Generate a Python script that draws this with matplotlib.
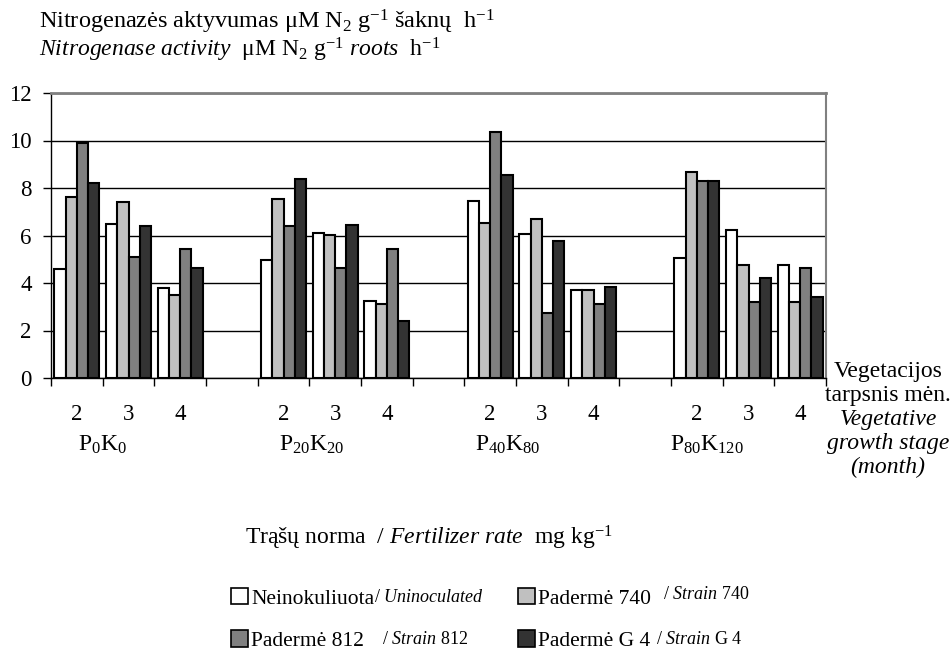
import matplotlib
matplotlib.use("Agg")
import matplotlib.pyplot as plt
from matplotlib.patches import Patch
from matplotlib.transforms import blended_transform_factory
import numpy as np

plt.rcParams["font.family"] = ["Liberation Serif", "DejaVu Serif"]
plt.rcParams["mathtext.fontset"] = "custom"
plt.rcParams["mathtext.rm"] = "Liberation Serif"
plt.rcParams["mathtext.it"] = "Liberation Serif:italic"
plt.rcParams["mathtext.bf"] = "Liberation Serif:bold"

# Fertilizer rates and growth stages (months)
fertilizer_groups = ["P$_0$K$_0$", "P$_{20}$K$_{20}$", "P$_{40}$K$_{80}$", "P$_{80}$K$_{120}$"]
months = ["2", "3", "4"]

# Nitrogenase activity, one value per fertilizer rate x month
uninoculated = [4.61, 6.49, 3.77, 4.98, 6.09, 3.26, 7.46, 6.08, 3.70, 5.06, 6.22, 4.77]
strain_740 = [7.63, 7.43, 3.50, 7.53, 6.04, 3.13, 6.54, 6.69, 3.72, 8.69, 4.77, 3.19]
strain_812 = [9.89, 5.09, 5.44, 6.38, 4.63, 5.44, 10.37, 2.75, 3.12, 8.28, 3.22, 4.63]
strain_g4 = [8.21, 6.39, 4.63, 8.39, 6.43, 2.41, 8.56, 5.77, 3.82, 8.28, 4.23, 3.43]

series_main = ["Neinokuliuota", "Padermė 740", "Padermė 812", "Padermė G 4"]
series_sub = [r"/ $\mathit{Uninoculated}$", r"/ $\mathit{Strain}$ 740",
              r"/ $\mathit{Strain}$ 812", r"/ $\mathit{Strain}$ G 4"]
colors = ["#FFFFFF", "#C0C0C0", "#808080", "#333333"]

fig = plt.figure(figsize=(9.5, 6.51), dpi=100)
W, H = 950, 651
ax = fig.add_axes([51 / W, 1 - 378 / H, (826 - 51) / W, (378 - 93) / H])

# each fertilizer group takes three month slots plus one empty slot
n_groups = len(fertilizer_groups)
slots = []
for g in range(n_groups):
    for m in range(len(months)):
        slots.append(g * (len(months) + 1) + m)
slots = np.array(slots)
n_slots = n_groups * (len(months) + 1) - 1

bar_w = 0.218
all_series = [uninoculated, strain_740, strain_812, strain_g4]
for j, (vals, col) in enumerate(zip(all_series, colors)):
    ax.bar(slots + 0.5 + (j - 1.5) * bar_w, vals, width=bar_w, color=col,
           edgecolor="black", linewidth=1.5, zorder=3)

ax.set_xlim(0, n_slots)
ax.set_ylim(0, 12)
ax.set_yticks(np.arange(0, 13, 2))
ax.tick_params(axis="y", direction="out", length=6, width=1, pad=8, labelsize=16.5)
ax.yaxis.grid(True, color="black", linewidth=1, zorder=0)
ax.set_axisbelow(True)

ax.set_xticks(np.arange(0, n_slots + 1))
ax.set_xticklabels([])
ax.tick_params(axis="x", which="major", direction="out", length=6, width=1)
ax.set_xticks(slots + 0.5, minor=True)
ax.set_xticklabels(months * n_groups, minor=True)
ax.tick_params(axis="x", which="minor", length=0, pad=19, labelsize=16.5)

for side in ["left", "bottom"]:
    ax.spines[side].set_color("black")
    ax.spines[side].set_linewidth(1)
ax.spines["top"].set_color("#808080")
ax.spines["top"].set_linewidth(2)
ax.spines["right"].set_color("#808080")
ax.spines["right"].set_linewidth(1.5)

# fertilizer group names under the month labels
group_label_x = [1.0, 5.05, 8.85, 12.7]
xfig = blended_transform_factory(ax.transData, fig.transFigure)
for gx, lab in zip(group_label_x, fertilizer_groups):
    ax.text(gx, 1 - 451 / H, lab, transform=xfig, ha="center", va="baseline",
            fontsize=17)

# y axis title (two lines)
fig.text(39 / W, 1 - 28 / H,
         "Nitrogenazės aktyvumas μM N$_2$ g$^{-1}$ šaknų  h$^{-1}$",
         ha="left", va="baseline", fontsize=17.5)
fig.text(39 / W, 1 - 57 / H,
         r"$\mathit{Nitrogenase\ activity}$  μM N$_2$ g$^{-1}$ $\mathit{roots}$  h$^{-1}$",
         ha="left", va="baseline", fontsize=17)

# x axis title on the right, one text per line
right_lines = [("Vegetacijos", "normal"), ("tarpsnis mėn.", "normal"),
               ("Vegetative", "italic"), ("growth stage", "italic"),
               ("(month)", "italic")]
for k, (line, st) in enumerate(right_lines):
    fig.text(888 / W, 1 - (377 + 24 * k) / H, line, ha="center", va="baseline",
             fontsize=17, style=st)

# fertilizer axis title
fig.text(245 / W, 1 - 545 / H,
         r"Trąšų norma  / $\mathit{Fertilizer\ rate}$  mg kg$^{-1}$",
         ha="left", va="baseline", fontsize=17)

# legend: main label plus a smaller italic translation
order = [0, 2, 1, 3]
handles = [Patch(facecolor=colors[i], edgecolor="black", linewidth=1.2) for i in order]
labels = [series_main[i] for i in order]
leg = fig.legend(handles, labels, ncol=2, loc="upper left",
                 bbox_to_anchor=(231 / W, 1 - 588 / H), frameon=False,
                 fontsize=15.5, handlelength=0.8, handleheight=0.8,
                 handletextpad=0.15, labelspacing=1.0, columnspacing=6.65,
                 borderpad=0, borderaxespad=0)

fig.canvas.draw()
renderer = fig.canvas.get_renderer()
sub_offsets = {0: (-1, 3), 2: (18, 3), 1: (12, 6), 3: (6, 3)}
to_fig = fig.transFigure.inverted()
for txt, i in zip(leg.get_texts(), order):
    bb = txt.get_window_extent(renderer)
    dx, dy = sub_offsets[i]
    fx, fy = to_fig.transform((bb.x1 + dx, bb.y0 + dy))
    fig.text(fx, fy, series_sub[i], ha="left", va="bottom", fontsize=13)

fig.savefig("out.png", dpi=100)
